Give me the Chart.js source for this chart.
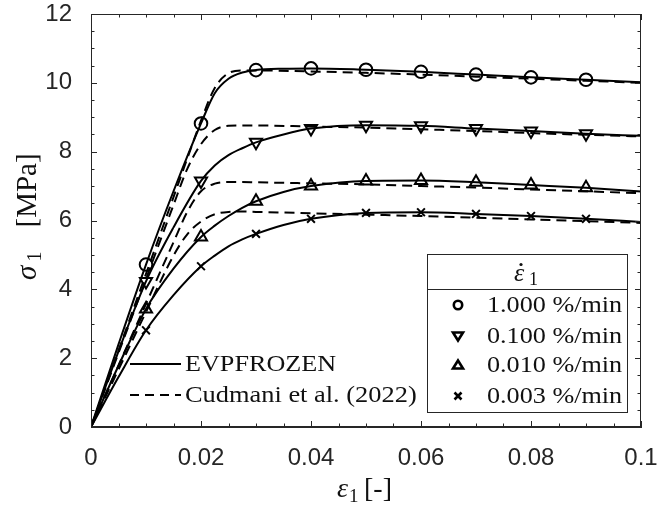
<!DOCTYPE html>
<html><head><meta charset="utf-8">
<script src="https://cdn.jsdelivr.net/npm/chart.js@4.4.1/dist/chart.umd.min.js"></script>
<style>html,body{margin:0;padding:0;background:#fff;}#wrap{width:665px;height:506px;position:relative;}</style>
</head><body><div id="wrap"><canvas id="c" width="665" height="506"></canvas></div>
<script>
// ---- data ----
const strainSolid = [0, 0.005, 0.01, 0.015, 0.02, 0.0225, 0.025, 0.0275, 0.03, 0.035, 0.04, 0.05, 0.06, 0.07, 0.08, 0.09, 0.1];
const evp1000 = [0, 2.40, 4.72, 6.85, 8.82, 9.70, 10.12, 10.30, 10.37, 10.41, 10.42, 10.38, 10.32, 10.24, 10.16, 10.09, 10.02];
const evp0100 = [0, 2.20, 4.23, 5.80, 7.15, 7.60, 7.90, 8.10, 8.27, 8.50, 8.67, 8.77, 8.75, 8.67, 8.60, 8.52, 8.46];
const evp0010 = [0, 1.78, 3.43, 4.60, 5.52, 5.85, 6.13, 6.37, 6.56, 6.83, 7.00, 7.15, 7.16, 7.11, 7.03, 6.95, 6.84];
const evp0003 = [0, 1.45, 2.81, 3.83, 4.67, 4.98, 5.25, 5.45, 5.61, 5.87, 6.05, 6.22, 6.24, 6.19, 6.13, 6.05, 5.96];

const strainDashed = [0, 0.005, 0.01, 0.015, 0.0175, 0.02, 0.0225, 0.025, 0.0275, 0.03, 0.04, 0.05, 0.06, 0.07, 0.08, 0.09, 0.1];
const cud1000 = [0, 2.22, 4.45, 6.68, 7.80, 8.90, 9.85, 10.28, 10.36, 10.36, 10.33, 10.29, 10.24, 10.18, 10.12, 10.06, 10.00];
const cud0100 = [0, 2.15, 4.30, 6.45, 7.50, 8.22, 8.63, 8.75, 8.76, 8.76, 8.73, 8.70, 8.65, 8.60, 8.54, 8.49, 8.44];
const cud0010 = [0, 1.79, 3.58, 5.37, 6.25, 6.85, 7.07, 7.12, 7.12, 7.11, 7.08, 7.05, 7.00, 6.96, 6.90, 6.85, 6.79];
const cud0003 = [0, 1.67, 3.34, 4.98, 5.60, 5.97, 6.18, 6.25, 6.26, 6.25, 6.21, 6.17, 6.13, 6.08, 6.03, 5.98, 5.93];

const strainMarkers = [0.01, 0.02, 0.03, 0.04, 0.05, 0.06, 0.07, 0.08, 0.09];
const mk1000 = [4.72, 8.82, 10.37, 10.42, 10.38, 10.32, 10.24, 10.16, 10.09];
const mk0100 = [4.23, 7.15, 8.27, 8.67, 8.77, 8.75, 8.67, 8.60, 8.52];
const mk0010 = [3.43, 5.52, 6.56, 7.00, 7.15, 7.16, 7.11, 7.03, 6.95];
const mk0003 = [2.81, 4.67, 5.61, 6.05, 6.22, 6.24, 6.19, 6.13, 6.05];

const rateLabels = ['1.000 %/min', '0.100 %/min', '0.010 %/min', '0.003 %/min'];
const modelLabels = ['EVPFROZEN', 'Cudmani et al. (2022)'];
const xTickValues = [0, 0.02, 0.04, 0.06, 0.08, 0.1];
const yTickValues = [0, 2, 4, 6, 8, 10, 12];
const xMinorStep = 0.005;
const yMinorStep = 0.5;

// ---- build ----
const pts = (xs, ys) => xs.map((x, i) => ({x, y: ys[i]}));
const INK = '#000';
const AX = '#262626';
const TXT = '#111';
const SERIF = '"Liberation Serif", "DejaVu Serif", serif';
const markerStyles = [
  {style: 'circle', radius: 6.3, rot: 0},
  {style: 'triangle', radius: 7, rot: 180},
  {style: 'triangle', radius: 7, rot: 0},
  {style: 'crossRot', radius: 5.5, rot: 0}
];
const mkData = [mk1000, mk0100, mk0010, mk0003];
const solidData = [evp1000, evp0100, evp0010, evp0003];
const dashData = [cud1000, cud0100, cud0010, cud0003];

const datasets = [];
mkData.forEach((d, i) => datasets.push({
  label: rateLabels[i], data: pts(strainMarkers, d), showLine: false,
  pointStyle: markerStyles[i].style, pointRadius: markerStyles[i].radius,
  pointRotation: markerStyles[i].rot, pointBorderColor: INK,
  pointBackgroundColor: 'rgba(0,0,0,0)', pointBorderWidth: 2, pointHoverRadius: 0
}));
solidData.forEach((d, i) => datasets.push({
  label: modelLabels[0] + ' ' + rateLabels[i], data: pts(strainSolid, d),
  borderColor: INK, borderWidth: 2, pointRadius: 0, cubicInterpolationMode: 'monotone', fill: false
}));
dashData.forEach((d, i) => datasets.push({
  label: modelLabels[1] + ' ' + rateLabels[i], data: pts(strainDashed, d),
  borderColor: INK, borderWidth: 2, borderDash: [10, 6], pointRadius: 0, cubicInterpolationMode: 'monotone', fill: false
}));

function drawMarker(ctx, kind, x, y) {
  ctx.save();
  ctx.strokeStyle = INK; ctx.lineWidth = 2.6; ctx.lineJoin = 'miter';
  ctx.beginPath();
  if (kind === 0) { ctx.arc(x, y, 4.2, 0, Math.PI * 2); }
  else if (kind === 1) { ctx.moveTo(x - 5, y - 3.5); ctx.lineTo(x + 5, y - 3.5); ctx.lineTo(x, y + 4.5); ctx.closePath(); }
  else if (kind === 2) { ctx.moveTo(x - 5, y + 3.5); ctx.lineTo(x + 5, y + 3.5); ctx.lineTo(x, y - 4.5); ctx.closePath(); }
  else { ctx.moveTo(x - 3.5, y - 3.5); ctx.lineTo(x + 3.5, y + 3.5); ctx.moveTo(x + 3.5, y - 3.5); ctx.lineTo(x - 3.5, y + 3.5); }
  ctx.stroke();
  ctx.restore();
}

// text drawn with a slight horizontal stretch to mimic Computer Modern widths
function wideText(ctx, t, x, y, font, sx) {
  ctx.save();
  ctx.font = font;
  ctx.translate(x, y);
  ctx.scale(sx, 1);
  ctx.fillText(t, 0, 0);
  ctx.restore();
}

const framePlugin = {
  id: 'frame',
  afterDatasetsDraw(chart) {
    const {ctx, chartArea: a, scales: {x, y}} = chart;
    ctx.save();
    ctx.strokeStyle = AX; ctx.lineWidth = 1;
    ctx.strokeRect(a.left + 0.5, a.top + 0.5, a.right - a.left - 1, a.bottom - a.top - 1);
    // inward ticks
    ctx.beginPath();
    const nx = Math.round((x.max - x.min) / xMinorStep);
    for (let k = 0; k <= nx; k++) {
      const v = x.min + k * xMinorStep;
      const major = xTickValues.some(t => Math.abs(t - v) < 1e-9);
      const L = major ? 6 : 3.5;
      const px = Math.round(x.getPixelForValue(v)) + 0.5;
      ctx.moveTo(px, a.bottom); ctx.lineTo(px, a.bottom - L);
      ctx.moveTo(px, a.top); ctx.lineTo(px, a.top + L);
    }
    const ny = Math.round((y.max - y.min) / yMinorStep);
    for (let k = 0; k <= ny; k++) {
      const v = y.min + k * yMinorStep;
      const major = yTickValues.some(t => Math.abs(t - v) < 1e-9);
      const L = major ? 6 : 3.5;
      const py = Math.round(y.getPixelForValue(v)) + 0.5;
      ctx.moveTo(a.left, py); ctx.lineTo(a.left + L, py);
      ctx.moveTo(a.right, py); ctx.lineTo(a.right - L, py);
    }
    ctx.stroke();

    // axis titles
    ctx.fillStyle = TXT; ctx.textBaseline = 'alphabetic'; ctx.textAlign = 'left';
    // x: ε1 [-]
    ctx.font = 'italic 28px ' + SERIF; ctx.fillText('ε', 337, 497);
    ctx.font = '19px ' + SERIF; ctx.fillText('1', 349, 502);
    ctx.font = '28px ' + SERIF; ctx.fillText('[-]', 364, 497);
    // y: σ1 [MPa]
    ctx.save();
    ctx.translate(36, 221.5);
    ctx.rotate(-Math.PI / 2);
    ctx.font = 'italic 29px ' + SERIF; ctx.fillText('σ', -58.5, 0);
    ctx.font = '20px ' + SERIF; ctx.fillText('1', -40, 5);
    ctx.font = '29px ' + SERIF; ctx.fillText('[MPa]', -6, 0);
    ctx.restore();

    // left legend (line styles)
    const legFont = '24px ' + SERIF;
    const sx = 1.09;
    ctx.textBaseline = 'middle';
    const ly = [364, 395];
    ctx.strokeStyle = INK; ctx.lineWidth = 2;
    ctx.beginPath(); ctx.setLineDash([]); ctx.moveTo(130, ly[0]); ctx.lineTo(181, ly[0]); ctx.stroke();
    ctx.beginPath(); ctx.setLineDash([9, 6]); ctx.moveTo(130, ly[1]); ctx.lineTo(181, ly[1]); ctx.stroke();
    ctx.setLineDash([]);
    ctx.fillStyle = TXT;
    wideText(ctx, modelLabels[0], 185, ly[0] + 1, legFont, sx);
    wideText(ctx, modelLabels[1], 185, ly[1] + 1, legFont, 1.1);

    // right legend (rates)
    const bx = 427.5, by = 254.5, bw = 200, bh = 158, hh = 35;
    ctx.fillStyle = '#fff'; ctx.fillRect(bx, by, bw, bh);
    ctx.strokeStyle = AX; ctx.lineWidth = 1;
    ctx.strokeRect(bx, by, bw, bh);
    ctx.beginPath(); ctx.moveTo(bx, by + hh); ctx.lineTo(bx + bw, by + hh); ctx.stroke();
    ctx.fillStyle = TXT;
    ctx.textAlign = 'left';
    ctx.font = 'italic 26px ' + SERIF;
    ctx.fillText('ε', 514, by + 20);
    ctx.beginPath(); ctx.arc(521, by + 10, 1.6, 0, Math.PI * 2); ctx.fill();
    ctx.font = '18px ' + SERIF;
    ctx.fillText('1', 529, by + 26);
    const rows = [305, 336, 365, 396];
    rateLabels.forEach((t, i) => {
      drawMarker(ctx, i, 458, rows[i]);
      ctx.fillStyle = TXT;
      wideText(ctx, t, 487, rows[i] + 1, legFont, sx);
    });
    ctx.restore();
  }
};

new Chart(document.getElementById('c'), {
  type: 'line',
  data: {datasets},
  options: {
    responsive: false, animation: false, events: [],
    layout: {padding: {top: 14, right: 24, left: 0, bottom: 0}},
    plugins: {legend: {display: false}, tooltip: {enabled: false}},
    scales: {
      x: {
        type: 'linear', min: 0, max: 0.1,
        afterBuildTicks: s => { s.ticks = xTickValues.map(v => ({value: v})); },
        afterFit: s => { s.height = 79; s.paddingLeft = 0; s.paddingRight = 0; },
        grid: {display: false}, border: {display: true, color: AX, width: 1},
        ticks: {color: AX, padding: 9, maxRotation: 0, autoSkip: false,
          font: {family: '"Liberation Sans", Arial, sans-serif', size: 24},
          callback: v => String(+Number(v).toFixed(2))},
        title: {display: false}
      },
      y: {
        type: 'linear', min: 0, max: 12,
        afterBuildTicks: s => { s.ticks = yTickValues.map(v => ({value: v})); },
        afterFit: s => { s.width = 91; s.paddingTop = 0; s.paddingBottom = 0; },
        grid: {display: false}, border: {display: true, color: AX, width: 1},
        ticks: {color: AX, padding: 11, autoSkip: false,
          font: {family: '"Liberation Sans", Arial, sans-serif', size: 24},
          callback: v => String(v)},
        title: {display: false}
      }
    }
  },
  plugins: [framePlugin]
});
</script></body></html>
